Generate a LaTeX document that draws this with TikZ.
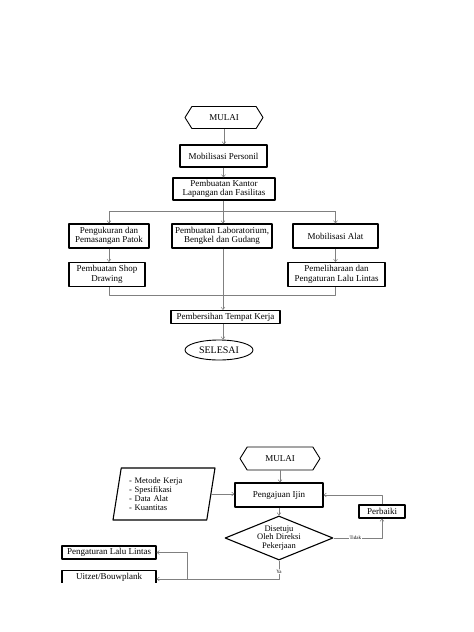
\documentclass[tikz,border=0pt]{standalone}
\usepackage{fontspec}
\setmainfont{Liberation Serif}
\usetikzlibrary{shapes.geometric,shapes.symbols,arrows.meta}
\begin{document}
\begin{tikzpicture}[x=1pt, y=-1pt, font=\fontsize{9}{9.5}\selectfont, line join=round, >={Straight Barb[length=2.5pt,width=4pt]},
  box/.style={draw, line width=1.1pt, align=center, inner sep=1pt},
  term/.style={draw, line width=0.9pt, signal, signal to=west and east, signal pointer angle=116, inner sep=1pt},
  link/.style={draw=gray, line width=0.5pt},
  tag/.style={fill=white, inner sep=1pt, font=\fontsize{5}{6}\selectfont}]
\useasboundingbox (0,0) rectangle (474,632);
\node[term, minimum width=78pt, minimum height=22pt] (mulai) at (224,117.5) {MULAI};
\node[box, minimum width=87pt, minimum height=22pt] (personil) at (223.5,156) {Mobilisasi Personil};
\node[box, minimum width=102pt, minimum height=22pt] (kantor) at (224,189) {Pembuatan Kantor\\Lapangan dan Fasilitas};
\node[box, minimum width=80pt, minimum height=24pt] (patok) at (109,236) {Pengukuran dan\\Pemasangan Patok};
\node[box, minimum width=100pt, minimum height=24pt] (lab) at (222,236) {Pembuatan Laboratorium,\\Bengkel dan Gudang};
\node[box, minimum width=85pt, minimum height=24pt] (alat) at (335.5,236) {Mobilisasi Alat};
\node[box, minimum width=76pt, minimum height=24pt] (shop) at (107,274.5) {Pembuatan Shop\\Drawing};
\node[box, minimum width=97pt, minimum height=24pt] (lalin) at (336.5,274.5) {Pemeliharaan dan\\Pengaturan Lalu Lintas};
\node[box, minimum width=109pt, minimum height=13pt] (bersih) at (225.5,317) {Pembersihan Tempat Kerja};
\node[draw, ellipse, line width=0.9pt, minimum width=68pt, minimum height=20pt, inner sep=0pt, font=\fontsize{10}{10}\selectfont] (selesai) at (219,350) {SELESAI};
\coordinate (bagi) at (223,211);
\coordinate (gabung) at (223,295);
\draw[link,->] (mulai.south) -- (mulai.south |- personil.north);
\draw[link,->] (personil.south) -- (personil.south |- kantor.north);
\draw[link] (kantor.south -| bagi) -- (bagi) (patok.north |- bagi) -- (alat.north |- bagi);
\foreach \n in {patok,alat} \draw[link,->] (\n.north |- bagi) -- (\n.north);
\draw[link,->] (bagi) -- (bagi |- lab.north);
\draw[link,->] (patok.south) -- (patok.south |- shop.north);
\draw[link,->] (alat.south) -- (alat.south |- lalin.north);
\draw[link] (patok.south |- shop.south) -- (patok.south |- gabung) -- (alat.south |- gabung) -- (alat.south |- lalin.south);
\draw[link] (gabung |- lab.south) -- (gabung);
\draw[link,->] (gabung) -- (gabung |- bersih.north);
\draw[link,->] (bersih.south -| gabung) -- (gabung |- selesai.north);
\node[term, minimum width=80pt, minimum height=23pt] (mulaiB) at (280,458.5) {MULAI};
\node[box, minimum width=88pt, minimum height=24pt] (ijin) at (279,495) {Pengajuan Ijin};
\node[draw, line width=1.1pt, trapezium, trapezium left angle=76, trapezium right angle=104, trapezium stretches body, minimum width=102pt, minimum height=52pt, text width=70pt, align=left, inner sep=0pt, font=\fontsize{8.5}{9}\selectfont] (data) at (164,494) {- Metode Kerja\\- Spesifikasi\\- Data Alat\\- Kuantitas};
\node[draw, diamond, line width=1.1pt, aspect=2.45, minimum width=108pt, minimum height=44pt, inner sep=0pt, align=center, font=\fontsize{8.5}{8.5}\selectfont] (setuju) at (279,538) {Disetuju\\Oleh Direksi\\Pekerjaan};
\node[box, minimum width=46pt, minimum height=13pt] (perbaiki) at (382,511.5) {Perbaiki};
\begin{scope}
\clip (0,0) rectangle (474,582);
\node[box, minimum width=94pt, minimum height=13pt] (lalu) at (109,552.5) {Pengaturan Lalu Lintas};
\node[box, minimum width=94pt, minimum height=13pt] (uitzet) at (109,577) {Uitzet/Bouwplank};
\end{scope}
\coordinate (cabang) at (187,579);
\draw[link,->] (mulaiB.south) -- (mulaiB.south |- ijin.north);
\draw[link,->] (data.east) -- (data.east -| ijin.west);
\draw[link,->] (ijin.south) -- (ijin.south |- setuju.north);
\draw[link,->] (setuju.east) -- (perbaiki.south |- setuju.east) node[tag, pos=0.45] {Tidak} -- (perbaiki.south);
\draw[link,->] (perbaiki.north) -- (perbaiki.north |- ijin.east) -- (ijin.east);
\draw[link,->] (setuju.south) -- (setuju.south |- cabang) node[tag, pos=0.6] {Ya} -- (cabang -| uitzet.east);
\draw[link,->] (cabang) -- (cabang |- lalu.east) -- (lalu.east);
\end{tikzpicture}
\end{document}
